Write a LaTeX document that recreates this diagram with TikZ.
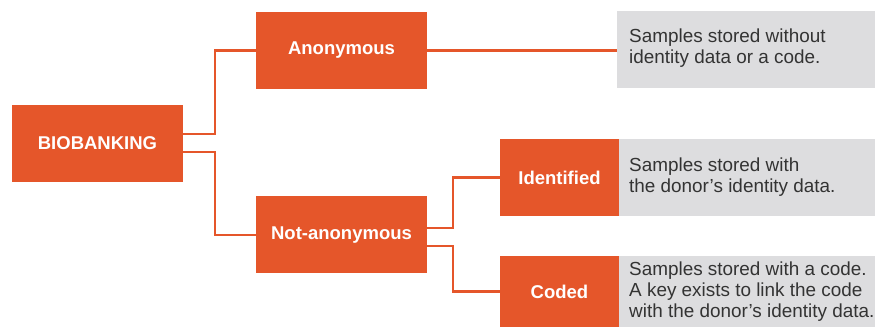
\documentclass[tikz,border=0pt]{standalone}
\usepackage{fontspec}
\setmainfont{Liberation Sans}
\definecolor{bbOrange}{HTML}{E5562A}
\definecolor{bbGray}{HTML}{DDDDDF}
\definecolor{bbText}{HTML}{333333}
\begin{document}
\begin{tikzpicture}[x=1pt,y=-1pt,
  catbox/.style={fill=bbOrange, text=white, inner sep=0pt,
    font=\bfseries\fontsize{18.5}{21}\selectfont},
  graybox/.style={fill=bbGray, inner sep=0pt, minimum height=77pt},
  desc/.style={text=bbText, font=\fontsize{18.9}{21}\selectfont,
    align=left, anchor=west, inner sep=0pt},
  link/.style={draw=bbOrange, line width=2.5pt}]
\useasboundingbox (0,0) rectangle (875,328);

% category boxes
\node[catbox, minimum width=171pt, minimum height=77pt] (bio)     at (97.5,143.5) {BIOBANKING};
\node[catbox, minimum width=171pt, minimum height=77pt] (anon)    at (341.5,50.5) {Anonymous};
\node[catbox, minimum width=171pt, minimum height=77pt] (nonanon) at (341.5,235)  {Not-anonymous};
\node[catbox, minimum width=119pt, minimum height=77pt] (ident)   at (559.5,177.5) {Identified};
\node[catbox, minimum width=119pt, minimum height=71pt] (coded)   at (559.5,291.5) {Coded};

% description panels
\node[graybox, minimum width=258pt] (gA) at (746,49.5) {};
\node[graybox, minimum width=256pt, anchor=west] (gI) at (ident.east) {};
\node[graybox, minimum width=256pt, minimum height=71pt, anchor=west] (gC) at (coded.east) {};

\node[desc] (tA) at (629,48) {Samples stored without\\identity data or a code.};
\node[desc] (tI) at (629,177) {Samples stored with\\the donor’s identity data.};
\node[desc] (tC) at (629,292) {Samples stored with a code.\\A key exists to link the code\\with the donor’s identity data.};

% connectors
\draw[link] ([yshift=9.5pt]bio.east) -- ++(32,0) |- (anon.west);
\draw[link] ([yshift=-8.5pt]bio.east) -- ++(32,0) |- (nonanon.west);
\draw[link] (anon.east) -- (anon.east -| gA.west);
\draw[link] ([yshift=7pt]nonanon.east) -- ++(26,0) |- (ident.west);
\draw[link] ([yshift=-11pt]nonanon.east) -- ++(26,0) |- (coded.west);
\end{tikzpicture}
\end{document}
